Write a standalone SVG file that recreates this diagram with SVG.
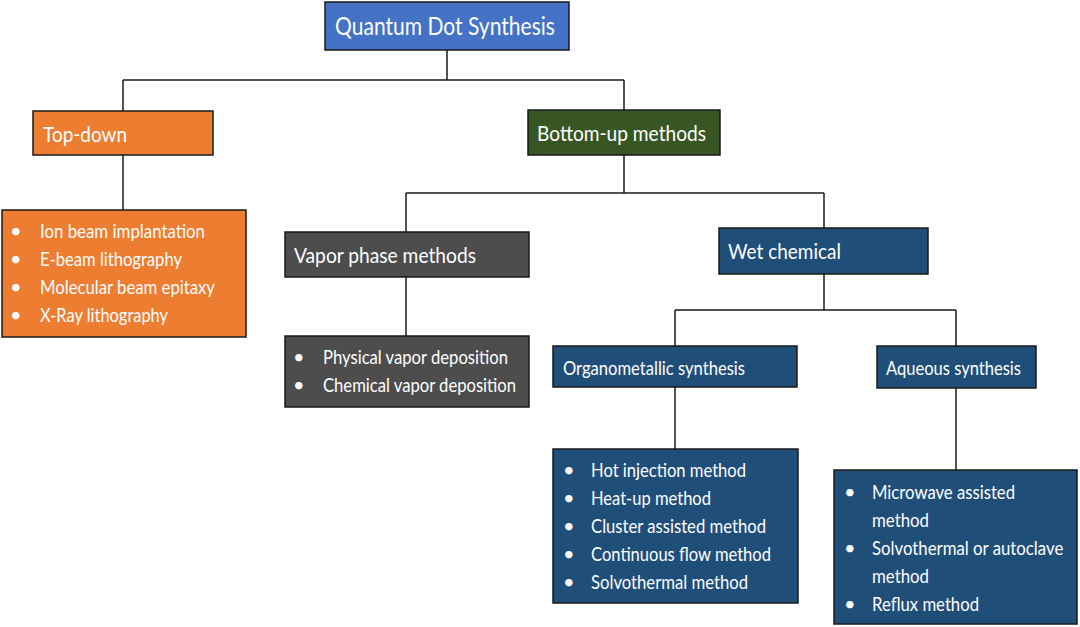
<svg xmlns="http://www.w3.org/2000/svg" width="1080" height="627" viewBox="0 0 1080 627">
<style>
.box{stroke:#1a1a1a;stroke-width:1.5}
.blue{fill:#4472C4}
.orange{fill:#ED7D31}
.green{fill:#375623}
.gray{fill:#4D4D4D}
.navy{fill:#1F4E79}
text{font-family:Lato,"Open Sans",sans-serif;fill:#ffffff}
.t{font-size:22px}
.s{font-size:20px}
.li{font-size:20px}
.conn{stroke:#1a1a1a;stroke-width:1.5;fill:none}
</style>
<rect width="1080" height="627" fill="#ffffff"/>
<g id="connectors">
<path class="conn" d="M447,50 V80 M123,80 H624 M123,80 V111 M624,80 V110"/>
<path class="conn" d="M123,155 V210"/>
<path class="conn" d="M624,155 V193 M406,193 H824 M406,193 V232 M824,193 V228"/>
<path class="conn" d="M406,277 V336"/>
<path class="conn" d="M824,274 V310 M675,310 H956 M675,310 V346 M956,310 V346"/>
<path class="conn" d="M675,387 V449"/>
<path class="conn" d="M956,388 V470"/>
</g>
<g id="quantum-dot-synthesis">
<rect class="box blue" x="325" y="2" width="244" height="48"/>
<text x="335" y="35" font-size="25" textLength="220" lengthAdjust="spacingAndGlyphs">Quantum Dot Synthesis</text>
</g>
<g id="top-down">
<rect class="box orange" x="33" y="111" width="180" height="44"/>
<text class="t" x="43" y="142" textLength="84" lengthAdjust="spacingAndGlyphs">Top-down</text>
</g>
<g id="top-down-list">
<rect class="box orange" x="2" y="210" width="244" height="127"/>
<text class="li" x="10" y="238">•</text><text class="li" x="40" y="238" textLength="165" lengthAdjust="spacingAndGlyphs">Ion beam implantation</text>
<text class="li" x="10" y="266">•</text><text class="li" x="40" y="266" textLength="142" lengthAdjust="spacingAndGlyphs">E-beam lithography</text>
<text class="li" x="10" y="294">•</text><text class="li" x="40" y="294" textLength="175" lengthAdjust="spacingAndGlyphs">Molecular beam epitaxy</text>
<text class="li" x="10" y="322">•</text><text class="li" x="40" y="322" textLength="128" lengthAdjust="spacingAndGlyphs">X-Ray lithography</text>
</g>
<g id="bottom-up">
<rect class="box green" x="528" y="110" width="192" height="45"/>
<text class="t" x="537" y="141" textLength="169" lengthAdjust="spacingAndGlyphs">Bottom-up methods</text>
</g>
<g id="vapor-phase">
<rect class="box gray" x="285" y="232" width="244" height="45"/>
<text class="t" x="294" y="263" textLength="182" lengthAdjust="spacingAndGlyphs">Vapor phase methods</text>
</g>
<g id="vapor-list">
<rect class="box gray" x="285" y="336" width="244" height="71"/>
<text class="li" x="293" y="364">•</text><text class="li" x="323" y="364" textLength="185" lengthAdjust="spacingAndGlyphs">Physical vapor deposition</text>
<text class="li" x="293" y="392">•</text><text class="li" x="323" y="392" textLength="193" lengthAdjust="spacingAndGlyphs">Chemical vapor deposition</text>
</g>
<g id="wet-chemical">
<rect class="box navy" x="719" y="228" width="209" height="46"/>
<text class="t" x="728" y="259" textLength="113" lengthAdjust="spacingAndGlyphs">Wet chemical</text>
</g>
<g id="organometallic">
<rect class="box navy" x="553" y="346" width="244" height="41"/>
<text class="s" x="563" y="375" textLength="182" lengthAdjust="spacingAndGlyphs">Organometallic synthesis</text>
</g>
<g id="organometallic-list">
<rect class="box navy" x="553" y="449" width="245" height="154"/>
<text class="li" x="563" y="477">•</text><text class="li" x="591" y="477" textLength="155" lengthAdjust="spacingAndGlyphs">Hot injection method</text>
<text class="li" x="563" y="505">•</text><text class="li" x="591" y="505" textLength="120" lengthAdjust="spacingAndGlyphs">Heat-up method</text>
<text class="li" x="563" y="533">•</text><text class="li" x="591" y="533" textLength="175" lengthAdjust="spacingAndGlyphs">Cluster assisted method</text>
<text class="li" x="563" y="561">•</text><text class="li" x="591" y="561" textLength="180" lengthAdjust="spacingAndGlyphs">Continuous flow method</text>
<text class="li" x="563" y="589">•</text><text class="li" x="591" y="589" textLength="157" lengthAdjust="spacingAndGlyphs">Solvothermal method</text>
</g>
<g id="aqueous">
<rect class="box navy" x="877" y="346" width="159" height="42"/>
<text class="s" x="886" y="375" textLength="135" lengthAdjust="spacingAndGlyphs">Aqueous synthesis</text>
</g>
<g id="aqueous-list">
<rect class="box navy" x="834" y="470" width="243" height="154"/>
<text class="li" x="844" y="499">•</text><text class="li" x="872" y="499" textLength="143" lengthAdjust="spacingAndGlyphs">Microwave assisted</text>
<text class="li" x="872" y="527" textLength="57" lengthAdjust="spacingAndGlyphs">method</text>
<text class="li" x="844" y="555">•</text><text class="li" transform="translate(872,555) scale(0.84,1)" x="0" y="0">Solvothermal or autoclave</text>
<text class="li" x="872" y="583" textLength="57" lengthAdjust="spacingAndGlyphs">method</text>
<text class="li" x="844" y="611">•</text><text class="li" x="872" y="611" textLength="107" lengthAdjust="spacingAndGlyphs">Reflux method</text>
</g>
</svg>
